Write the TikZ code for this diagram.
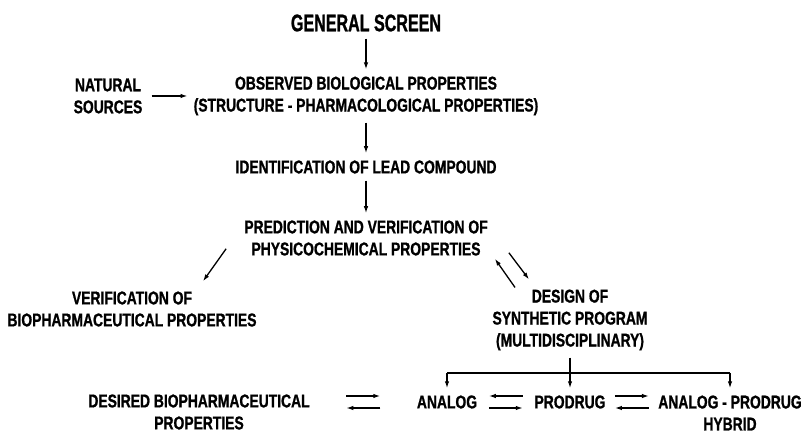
\documentclass[tikz,border=0pt]{standalone}
\usepackage{fontspec}
\newfontfamily\lblfont[FakeStretch=0.75,FakeBold=1]{Liberation Sans}
\newfontfamily\ttlfont[FakeStretch=0.67,FakeBold=1]{Liberation Sans}
\usepackage{tikz}
\usetikzlibrary{arrows.meta,calc}

\begin{document}
\begin{tikzpicture}[x=1bp,y=-1bp,
  lbl/.style={align=center,inner sep=2bp,font=\lblfont\bfseries\fontsize{18.5bp}{22bp}\selectfont},
  arr/.style={-{Latex[length=7bp,width=4.5bp]},line width=1.3bp},
  gap/.style={shorten <=5bp,shorten >=5bp}]
  \useasboundingbox (0,0) rectangle (804,433);
  \node[lbl,font=\ttlfont\bfseries\fontsize{24bp}{28bp}\selectfont] (gen) at (366,23) {GENERAL SCREEN};
  \node[lbl] (nat) at (108,96) {NATURAL\\SOURCES};
  \node[lbl] (obs) at (366,96) {OBSERVED BIOLOGICAL PROPERTIES\\(STRUCTURE - PHARMACOLOGICAL PROPERTIES)};
  \node[lbl] (lead) at (366,167) {IDENTIFICATION OF LEAD COMPOUND};
  \node[lbl] (pred) at (366,238) {PREDICTION AND VERIFICATION OF\\PHYSICOCHEMICAL PROPERTIES};
  \node[lbl] (verif) at (132,309) {VERIFICATION OF\\BIOPHARMACEUTICAL PROPERTIES};
  \node[lbl] (design) at (570,320) {DESIGN OF\\SYNTHETIC PROGRAM\\(MULTIDISCIPLINARY)};
  \node[lbl] (desired) at (199,412) {DESIRED BIOPHARMACEUTICAL\\PROPERTIES};
  \node[lbl] (analog) at (447,402) {ANALOG};
  \node[lbl] (prodrug) at (570,402) {PRODRUG};
  \node[lbl] (hybrid) at (730,413) {ANALOG - PRODRUG\\HYBRID};
  \draw[arr,gap] (gen) -- (obs);
  \draw[arr,shorten <=7bp,shorten >=4bp] (nat) -- (obs);
  \draw[arr,gap] (obs) -- (lead);
  \draw[arr,gap] (lead) -- (pred);
  \draw[arr] ($(pred.south west)+(-16,-9)$) -- ($(verif.north)+(71,-8)$);
  \draw[arr] ($(design.north)+(-55,0)$) -- ($(pred.south east)+(5,1)$);
  \draw[arr] ($(pred.south east)+(19,-5)$) -- ($(design.north)+(-41,-8)$);
  \draw[arr,gap] (design) -- (prodrug);
  \coordinate (fork) at ($(design.south)!.5!(prodrug.north)$);
  \draw[line width=1.3bp] (analog |- fork) -- (hybrid |- fork);
  \draw[arr,shorten >=5bp] (analog |- fork) -- (analog);
  \draw[arr,shorten >=5bp] (hybrid |- fork) -- (hybrid);
  \foreach \p/\q/\a/\b in {desired/analog/-17bp/17bp,analog/prodrug/17bp/-17bp,prodrug/hybrid/-17bp/17bp}{
    \coordinate (m) at ($(\p.east |- analog)!.5!(\q.west |- analog)$);
    \draw[arr] ([xshift=\a,yshift=6bp]m) -- ([xshift=\b,yshift=6bp]m);
    \draw[arr] ([xshift=\b,yshift=-6bp]m) -- ([xshift=\a,yshift=-6bp]m);
  }
\end{tikzpicture}
\end{document}
